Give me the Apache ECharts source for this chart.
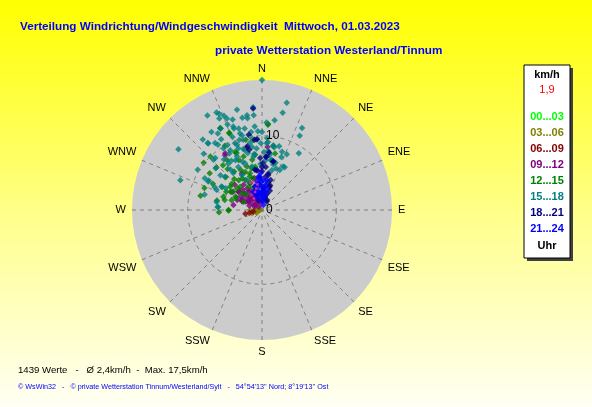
<!DOCTYPE html>
<html><head><meta charset="utf-8">
<script src="https://cdn.jsdelivr.net/npm/echarts@6/dist/echarts.min.js"></script>
<style>
html,body{margin:0;padding:0;}
#c{width:592px;height:407px;background:linear-gradient(to bottom,#FFFF00 0%,#FFFF90 55%,#FFFFF4 100%);}
</style></head>
<body><div id="c"></div>
<script>
// ---- texts ----
const titleLine1 = 'Verteilung Windrichtung/Windgeschwindigkeit  Mittwoch, 01.03.2023';
const titleLine2 = 'private Wetterstation Westerland/Tinnum';
const statsLine = '1439 Werte   -   Ø 2,4km/h  -  Max. 17,5km/h';
const footerLine = '© WsWin32   -   © private Wetterstation Tinnum/Westerland/Sylt   -   54°54\'13\'\' Nord; 8°19\'13\'\' Ost';
const directions = ['N','NNE','NE','ENE','E','ESE','SE','SSE','S','SSW','SW','WSW','W','WNW','NW','NNW'];
const radiusLabels = [0, 10];
const unitLabel = 'km/h';
const currentSpeed = '1,9';
const legendRanges = ['00...03','03...06','06...09','09...12','12...15','15...18','18...21','21...24'];
const legendColors = ['#00FF00','#808000','#800000','#800080','#008000','#008080','#000080','#0000FF'];
const hourLabel = 'Uhr';
const maxSpeed = 17.5;

// ---- data: [direction in degrees, speed km/h] ----
const h00_03 = [];
const h03_06 = [[256,0.9],[259,0.5],[242,0.8],[252,1.4],[300,0.4],[270,0.2],[262,0.7],[259,1.2],[270,0.9],[270,1.6]];
const h06_09 = [[257,2.3],[258,1.7],[260,1.2]];
const h09_12 = [[326,8.9],[5,8.5],[346,8.6],[331,5.6],[308,4.0],[312,3.3],[312,2.7],[311,2.1],[325,1.9],[323,1.1],
  [304,1.6],[297,2.5],[302,3.4],[292,3.6],[293,2.9],[324,3.0],[333,2.5],[344,3.3],[336,3.9],[346,1.8],
  [349,1.1],[315,0.6],[325,3.5],[324,4.2],[352,5.4],[344,4.4],[0,2.5],[294,1.1],[289,1.8],[301,4.7],
  [318,2.4],[330,1.4],[338,2.0],[305,2.2],[316,3.8],[300,3.0],
  [327,9.1],[347,4.4],[308,4.0],[314,3.2],[329,3.1],[296,3.0],[301,2.2],[323,2.0],[280,3.9],[305,1.2],
  [348,2.3],[313,5.0]];
const h12_15 = [[4,11.6],[10,8.8],[333,12.3],[337,11.3],[330,10.0],[309,10.1],[283,8.5],[267,5.8],[269,4.5],[291,8.3],
  [298,7.5],[305,8.6],[313,8.4],[312,6.6],[325,8.2],[324,6.4],[322,5.1],[300,4.9],[310,3.5],[331,4.6],
  [342,5.2],[341,6.2],[332,6.1],[335,8.6],[347,9.7],[353,9.5],[311,4.4],[289,5.5],[288,4.3],[294,2.7],
  [330,3.6],[349,6.9],[351,5.9],[341,7.6],[300,6.2],[297,4.0],[318,5.6],[328,5.0],[336,4.0],[345,4.4],
  [320,7.2],[306,5.3],[315,3.0],[340,3.2],
  [333,12.4],[337,11.2],[4,11.5],[13,7.8],[335,7.4],[319,8.0],[311,5.4],[285,5.2],[282,6.2],[270,4.5],
  [295,3.8],[303,4.6],[317,4.3],[336,5.6],[346,5.8],[340,4.8],[353,7.5],[336,8.4],[316,10.0],[297,5.4]];
const h15_18 = [[0,17.5],[13,14.8],[12,13.4],[26,12.3],[27,11.2],[33,9.1],[355,13.9],[355,12.8],[346,13.9],[351,12.9],
  [348,12.7],[335,14.5],[335,13.6],[338,13.7],[338,12.4],[342,12.8],[341,11.6],[344,11.4],[348,11.2],[355,11.3],
  [333,12.3],[320,12.4],[321,11.6],[306,13.9],[290,11.7],[302,10.2],[285,8.0],[280,6.2],[274,6.0],[338,10.6],
  [342,9.9],[351,10.0],[356,9.6],[0,10.5],[4,9.7],[11,8.6],[15,8.9],[8,7.5],[28,6.5],[19,5.9],
  [14,5.5],[4,6.7],[352,7.6],[355,8.3],[346,7.9],[338,9.7],[332,9.1],[323,8.5],[312,8.4],[310,7.3],
  [299,8.2],[299,8.8],[296,7.1],[301,5.7],[322,6.9],[338,7.0],[332,7.6],[332,9.9],[339,8.9],[10,6.8],
  [359,9.0],[350,9.2],[345,10.4],[6,8.0],[2,7.8],[358,6.2],[347,6.0],[335,8.0],[328,7.8],[343,8.6],
  [5,9.2],[20,7.6],[24,8.2],[16,6.6],[352,10.6],[326,10.6],[318,9.4],[314,10.9],[330,11.0],[3,11.8],[8,12.2],
  [330,14.7],[336,14.2],[339,13.2],[341,11.9],[344,10.7],[351,12.5],[357,10.6],[4,9.0],[10,8.7],[19,8.3],
  [26,6.5],[24,5.9],[11,6.9],[14,6.3],[327,12.5],[330,11.9],[325,11.0],[321,11.5],[316,9.4],[298,8.2],
  [294,6.7],[300,6.3],[274,5.9],[330,8.8],[339,9.4],[344,8.4],[351,8.6],[345,9.8],[351,7.3],[340,6.7],
  [331,6.6],[322,6.3],[324,7.7],[312,6.7],[330,5.4],[333,4.5],[328,9.8]];
const h18_21 = [[355,13.7],[356,9.5],[7,7.8],[13,6.7],[1,6.3],[16,4.2],[18,3.3],[17,2.3],[6,4.5],[0,5.2],
  [356,4.3],[353,5.4],[348,8.3],[4,7.2],[347,8.8],[8,1.6],[27,1.5],[10,5.0],[12,3.8],[3,3.0],
  [22,2.8],[5,5.8],[358,7.0],
  [354,9.5],[350,10.3],[13,6.7],[5,7.2],[10,4.8],[18,3.5],[13,1.8],[355,3.4],[350,5.5],[0,5.8],
  [4,2.7],[340,1.4],[29,1.3]];
const h21_24 = [[353,3.6],[0,3.1],[5,2.5],[347,3.0],[354,2.0],[8,3.4],[2,4.0],[350,2.5],[339,2.2],[10,1.8],
  [354,1.3],[340,2.6],[14,2.8],[356,4.5],[350,3.9],[4,1.2],[12,2.2],[358,5.0],[2,2.0],
  [354,4.5],[359,3.8],[343,3.3],[353,2.3],[7,3.2],[338,1.9],[15,0.7],[335,2.7],[9,4.1]];
const current = [[350,3.5],[325,1.9],[337,4.0],[345,3.0],[343,4.0],[339,2.6]];

const groups = [h00_03,h03_06,h06_09,h09_12,h12_15,h15_18,h18_21,h21_24];

const chart = echarts.init(document.getElementById('c'), null, {renderer:'canvas'});
const FONT = '"Liberation Sans", Arial, sans-serif';

const series = groups.map((g,i)=>({
  type:'scatter', coordinateSystem:'polar', name:legendRanges[i],
  symbol:'diamond', symbolSize:6.5,
  itemStyle:{color:legendColors[i]},
  data:g.map(p=>[p[1],p[0]]), z:3+i, silent:true
}));
series.push({type:'scatter', coordinateSystem:'polar', symbol:'rect', symbolSize:2.5,
  itemStyle:{color:'#FF3399'}, data:current.map(p=>[p[1],p[0]]), z:20, silent:true});

const CX=262, CY=210, R=130;
const LX=524, LY=65, LW=46, LH=193;
const legendTexts = [];
legendTexts.push({type:'text', x:LX+LW/2, y:LY+10, style:{text:unitLabel, font:'bold 11px '+FONT, fill:'#000', align:'center', verticalAlign:'middle'}});
legendTexts.push({type:'text', x:LX+LW/2, y:LY+25, style:{text:currentSpeed, font:'11px '+FONT, fill:'#FF0000', align:'center', verticalAlign:'middle'}});
legendRanges.forEach((t,i)=>{
  legendTexts.push({type:'text', x:LX+LW/2, y:LY+52+i*16, style:{text:t, font:'bold 11px '+FONT, fill:legendColors[i], align:'center', verticalAlign:'middle'}});
});
legendTexts.push({type:'text', x:LX+LW/2, y:LY+181, style:{text:hourLabel, font:'bold 11px '+FONT, fill:'#000', align:'center', verticalAlign:'middle'}});

chart.setOption({
  animation:false,
  backgroundColor:'transparent',
  title:[
    {text:titleLine1, left:20, top:21, padding:0, textStyle:{fontFamily:FONT, fontSize:11.7, fontWeight:'bold', color:'#0000FF'}},
    {text:titleLine2, left:215, top:45, padding:0, textStyle:{fontFamily:FONT, fontSize:11.7, fontWeight:'bold', color:'#0000FF'}},
    {text:statsLine, left:18, top:365, padding:0, textStyle:{fontFamily:FONT, fontSize:9.6, fontWeight:'normal', color:'#000'}},
    {text:footerLine, left:18, top:384, padding:0, textStyle:{fontFamily:FONT, fontSize:7.2, fontWeight:'normal', color:'#0000FF'}}
  ],
  graphic:[
    {type:'circle', shape:{cx:CX, cy:CY, r:R}, style:{fill:'#CCCCCC'}, z:-10, silent:true},
    {type:'rect', shape:{x:LX+3, y:LY+3, width:LW, height:LH}, style:{fill:'#404040'}, z:1},
    {type:'rect', shape:{x:LX, y:LY, width:LW, height:LH}, style:{fill:'#FFFFFF', stroke:'#000', lineWidth:1}, z:2},
    ...legendTexts.map(t=>Object.assign(t,{z:3}))
  ],
  polar:{center:[CX,CY], radius:R},
  angleAxis:{
    type:'value', min:0, max:360, interval:22.5, startAngle:90, clockwise:true,
    axisLine:{show:false}, axisTick:{show:false},
    axisLabel:{color:'#000', fontFamily:FONT, fontSize:11, margin:6,
      formatter:v=> v<359 ? directions[Math.round(v/22.5)] : ''},
    splitLine:{show:true, lineStyle:{color:'#808080', type:[4,4], width:1}}
  },
  radiusAxis:{
    type:'value', min:0, max:maxSpeed, interval:10,
    axisLine:{show:false}, axisTick:{show:false},
    axisLabel:{color:'#000', fontFamily:FONT, fontSize:12, margin:-4, align:'left',
      formatter:v=> radiusLabels.indexOf(v)>=0 ? String(v) : ''},
    splitLine:{show:true, lineStyle:{color:['rgba(0,0,0,0)','#808080','rgba(0,0,0,0)'], type:[4,4], width:1}},
    z:10
  },
  series:series
});
</script></body></html>
